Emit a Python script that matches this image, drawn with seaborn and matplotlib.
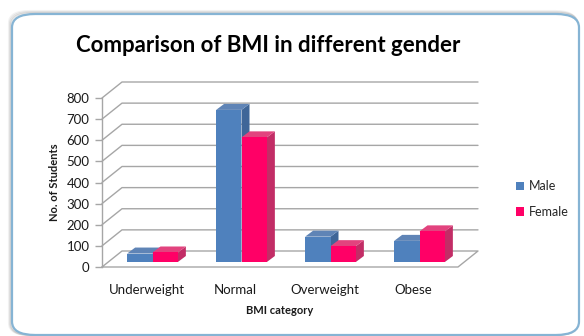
import matplotlib
matplotlib.use("Agg")
import matplotlib.pyplot as plt
import seaborn as sns
import pandas as pd
from matplotlib.patches import Polygon, FancyBboxPatch
from matplotlib.lines import Line2D

# ---- data ----
categories = ["Underweight", "Normal", "Overweight", "Obese"]
male = [40, 720, 120, 100]
female = [45, 590, 75, 145]
series = ["Male", "Female"]
yticks = [0, 100, 200, 300, 400, 500, 600, 700, 800]

title = "Comparison of BMI in different gender"
xlabel = "BMI category"
ylabel = "No. of Students"

colors_front = {"Male": "#4f81bd", "Female": "#ff0066"}
colors_side = {"Male": "#3f6698", "Female": "#c22d66"}
colors_top = {"Male": "#5f84b6", "Female": "#e2437e"}

df = pd.DataFrame({
    "BMI": categories * 2,
    "Students": male + female,
    "Gender": ["Male"] * len(categories) + ["Female"] * len(categories),
})

sns.set_theme(style="white")
plt.rcParams["font.family"] = ["Lato", "DejaVu Sans"]

W, H, DPI = 584, 336, 100
fig = plt.figure(figsize=(W / DPI, H / DPI), dpi=DPI)
fig.patch.set_facecolor("white")

def fx(px):
    return px / W
def fy(py):
    return 1 - py / H

# chart frame (rounded border with soft shadow)
for i, a in enumerate([0.10, 0.07, 0.05]):
    sh = FancyBboxPatch((fx(11 - i), fy(335)), fx(567), fy(13 - i) - fy(335),
                        boxstyle="round,pad=0,rounding_size=0.035", transform=fig.transFigure,
                        facecolor="none", edgecolor="black", alpha=a, lw=1.5, zorder=0)
    fig.add_artist(sh)
frame = FancyBboxPatch((fx(12), fy(335)), fx(567), fy(14) - fy(335),
                       boxstyle="round,pad=0,rounding_size=0.04", transform=fig.transFigure,
                       facecolor="white", edgecolor="#86b4d4", lw=1.6, zorder=0.5)
fig.add_artist(frame)

# axes = front plane of the 3D box
ax_left, ax_right = 102, 458
ax_top, ax_bot = 98, 267
ax = fig.add_axes([fx(ax_left), fy(ax_bot), fx(ax_right - ax_left), (ax_bot - ax_top) / H])
ax.set_facecolor("none")
ax.set_zorder(2)

sns.barplot(data=df, x="BMI", y="Students", hue="Gender", order=categories,
            hue_order=series, palette=[colors_front[s] for s in series],
            width=0.57, ax=ax, saturation=1, legend=False, linewidth=0)

ax.set_xlim(-0.5, len(categories) - 0.5)
ax.set_ylim(0, 800)

# pixel -> data conversions
px_x = (ax_right - ax_left) / len(categories)
px_y = (ax_bot - ax_top) / 800.0
def dxd(px):
    return px / px_x
def dyd(px):
    return px / px_y

# gridlines: left wall slant + back wall + floor
back_dx, back_dy = dxd(20), dyd(16)
x0, x1 = -0.5, len(categories) - 0.5
grid_col = "#a6a6a6"
for v in yticks[1:]:
    ax.add_line(Line2D([x0, x0 + back_dx, x1 + back_dx], [v, v + back_dy, v + back_dy],
                       color=grid_col, lw=1.0, clip_on=False, zorder=0.5))
ax.add_line(Line2D([x0, x1, x1 + back_dx, x0 + back_dx, x0], [0, 0, back_dy, back_dy, 0],
                   color=grid_col, lw=1.0, clip_on=False, zorder=0.5))

# 3D bars: shift front faces into depth and add side/top faces
bar_dx, bar_dy = dxd(6), dyd(5)
dep_dx, dep_dy = dxd(8), dyd(6)
bars = [p for p in ax.patches]
n = len(categories)
for i, p in enumerate(bars):
    s = series[i // n]
    bx0 = p.get_x() + bar_dx
    bx1 = bx0 + p.get_width()
    h = p.get_height()
    by0 = bar_dy
    z = 3 + i % n + (0.5 if s == "Female" else 0)
    p.set_xy((bx0, by0))
    p.set_clip_on(False)
    p.set_zorder(z)
    side = Polygon([(bx1, by0), (bx1 + dep_dx, by0 + dep_dy), (bx1 + dep_dx, by0 + h + dep_dy),
                    (bx1, by0 + h)], closed=True, facecolor=colors_side[s], edgecolor="none",
                   clip_on=False, zorder=z - 0.1)
    top = Polygon([(bx0, by0 + h), (bx1, by0 + h), (bx1 + dep_dx, by0 + h + dep_dy),
                   (bx0 + dep_dx, by0 + h + dep_dy)], closed=True, facecolor=colors_top[s],
                  edgecolor="none", clip_on=False, zorder=z - 0.1)
    ax.add_patch(side)
    ax.add_patch(top)

# axes styling
for k in ["top", "right", "bottom"]:
    ax.spines[k].set_visible(False)
ax.spines["left"].set_color(grid_col)
ax.spines["left"].set_linewidth(1.0)
ax.set_yticks(yticks)
ax.set_yticklabels([str(v) for v in yticks])
ax.tick_params(axis="y", length=5, width=1.0, color=grid_col, pad=4, labelsize=9.5,
               labelcolor="#1a1a1a", left=True)
ax.tick_params(axis="x", length=0, pad=12, labelsize=9.5, labelcolor="#1a1a1a")
ax.set_xlabel(xlabel, fontsize=8, fontweight="bold", color="#1a1a1a", labelpad=7)
ax.set_ylabel(ylabel, fontsize=8, fontweight="bold", color="#1a1a1a", labelpad=5)
ax.grid(False)

fig.text(fx(268), fy(45), title, ha="center", va="center", fontsize=16, fontweight="bold",
         color="black")

# legend
handles = [plt.Rectangle((0, 0), 1, 1, facecolor=colors_front[s], edgecolor="none") for s in series]
fig.legend(handles, series, loc="center left", bbox_to_anchor=(fx(510), fy(199)), frameon=False,
           fontsize=9, handlelength=0.65, handleheight=0.65, handletextpad=0.35, labelspacing=1.1,
           borderpad=0)

fig.savefig("out.png", dpi=DPI, facecolor="white")
